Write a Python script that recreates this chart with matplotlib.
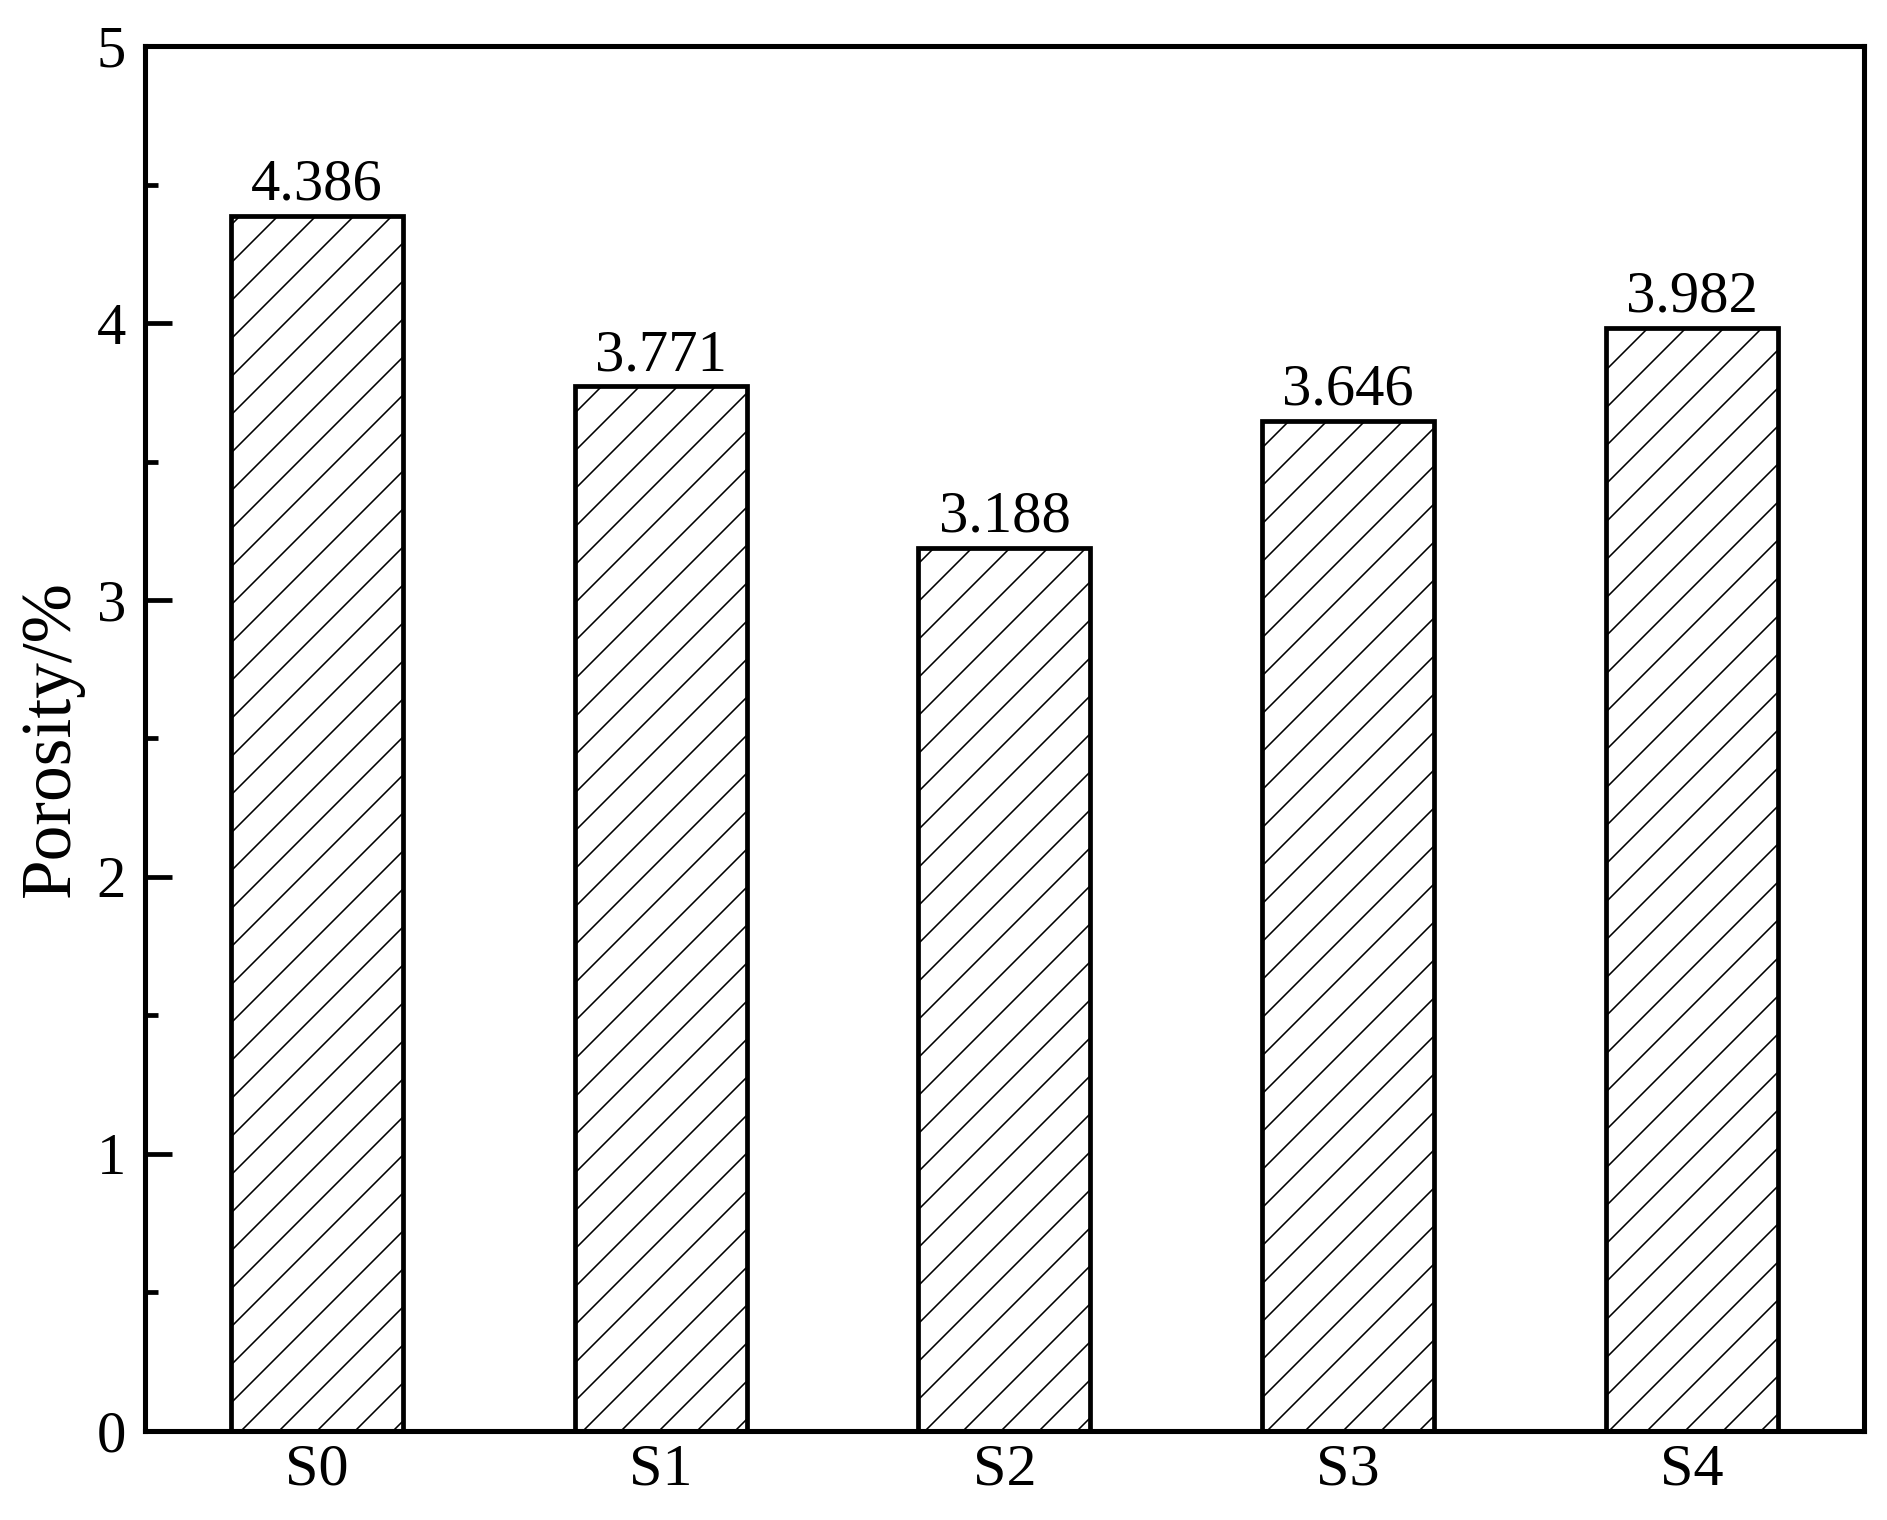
import matplotlib.pyplot as plt
from matplotlib.ticker import MultipleLocator

samples = ["S0", "S1", "S2", "S3", "S4"]
porosity = [4.386, 3.771, 3.188, 3.646, 3.982]
labels = ["4.386", "3.771", "3.188", "3.646", "3.982"]

plt.rcParams['font.family'] = ['Liberation Serif', 'DejaVu Serif']
plt.rcParams['hatch.linewidth'] = 0.5
plt.rcParams['hatch.color'] = 'black'

dpi = 228
fig = plt.figure(figsize=(1887 / dpi, 1520 / dpi), dpi=dpi)
ax = fig.add_axes([0.0768, 0.0586, 0.911, 0.9111])

x = range(len(samples))
bars = ax.bar(x, porosity, width=0.5, color='white', edgecolor='black',
              linewidth=1.5, hatch='//')

for b, lab in zip(bars, labels):
    ax.annotate(lab, (b.get_x() + b.get_width() / 2, b.get_height()),
                xytext=(0, 1), textcoords='offset points',
                ha='center', va='bottom', fontsize=18.5)

ax.set_xlim(-0.5, 4.5)
ax.set_ylim(0, 5)
ax.set_xticks(list(x))
ax.set_xticklabels(samples, fontsize=19)
ax.yaxis.set_major_locator(MultipleLocator(1))
ax.yaxis.set_minor_locator(MultipleLocator(0.5))
ax.tick_params(axis='y', which='major', direction='in', length=8.5, width=1.5,
               labelsize=18.5, pad=6)
ax.tick_params(axis='y', which='minor', direction='in', length=4, width=1.5)
ax.tick_params(axis='x', length=0, pad=4)
ax.set_ylabel("Porosity/%", fontsize=22.5, labelpad=4)

for s in ax.spines.values():
    s.set_linewidth(1.6)

fig.savefig("out.png", dpi=dpi)
